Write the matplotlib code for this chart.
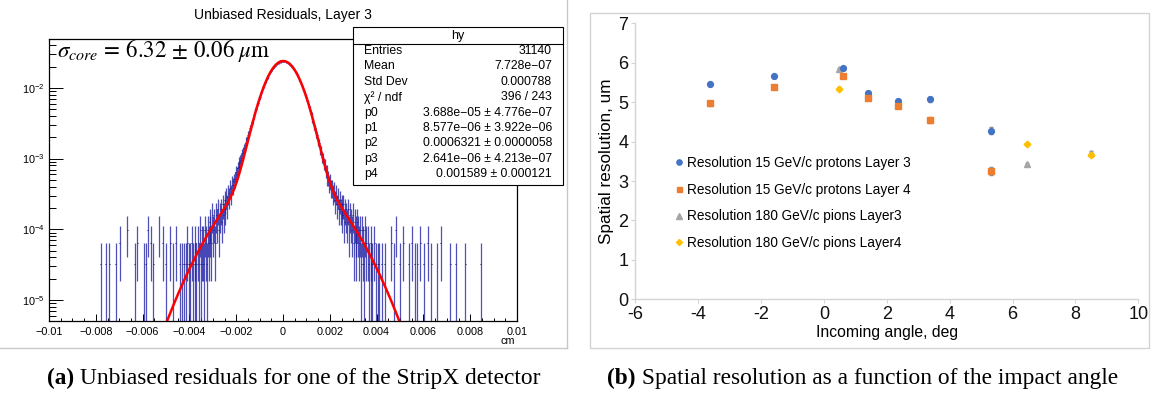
import matplotlib.pyplot as plt
import numpy as np
from matplotlib.patches import Rectangle
from matplotlib.lines import Line2D
from matplotlib.text import Annotation
from matplotlib.ticker import FixedLocator, FixedFormatter, LogLocator, NullFormatter, MultipleLocator

plt.rcParams['font.family'] = ['Liberation Sans', 'DejaVu Sans']
plt.rcParams['mathtext.fontset'] = 'stix'

# ---------------- panel (a): unbiased residuals (ROOT histogram) ----------------
n_entries = 31140
bin_width = 4e-5
x_lo, x_hi = -0.01, 0.01

# bin contents going outward from 0 (bins of 4e-5 cm)
counts_right = [752, 741, 738, 725, 719, 700, 690, 665, 651, 622,
                604, 572, 553, 518, 498, 463, 444, 409, 388, 355,
                335, 302, 285, 255, 240, 213, 198, 172, 160, 140,
                131, 110, 104, 88, 83, 70, 66, 55, 52, 42,
                41, 33, 32, 27, 26, 21, 21, 17, 17, 14,
                15, 12, 12, 10, 11, 8, 10, 7, 9, 6,
                8, 6, 7, 5, 7, 4, 6, 5, 4, 6,
                3, 5, 4, 3, 5, 2, 4, 3, 2, 4,
                3, 2, 3, 1, 3, 2, 1, 3, 2, 0,
                2, 1, 0, 2, 1, 1, 0, 2, 0, 1,
                0, 1, 1, 0, 0, 1, 0, 0, 1, 0, 0, 0]
counts_left = [748, 745, 731, 731, 712, 708, 680, 672, 642, 628,
               596, 580, 541, 527, 489, 470, 433, 416, 379, 362,
               326, 310, 278, 262, 232, 220, 191, 180, 158, 150,
               131, 124, 107, 101, 88, 84, 71, 68, 58, 55,
               47, 44, 39, 37, 32, 30, 28, 24, 23, 19,
               20, 16, 15, 13, 14, 10, 12, 9, 10, 7,
               9, 6, 8, 5, 7, 4, 6, 5, 3, 6,
               4, 5, 2, 4, 3, 5, 2, 3, 4, 2,
               3, 1, 2, 3, 1, 2, 2, 1, 3, 1,
               2, 0, 1, 2, 1, 0, 1, 2, 0, 1,
               1, 0, 2, 1, 0, 1, 0, 1, 0, 0, 1, 0]
# sparse outer tail bins
tail_x = [-0.00778, -0.00757, -0.00743, -0.00714, -0.00698, -0.00667, -0.00635,
          -0.00624, -0.00595, -0.00587, -0.00579, -0.00567, -0.00556, -0.00532,
          -0.00516, -0.00500, -0.00484, -0.00470, -0.00458,
          0.00462, 0.00475, 0.00484, 0.00500, 0.00516, 0.00536, 0.00548, 0.00563,
          0.00576, 0.00587, 0.00603, 0.00619, 0.00635, 0.00659, 0.00675, 0.00714,
          0.00738, 0.00778, 0.00845]
tail_n = [1, 1, 1, 1, 2, 3, 1, 2, 1, 1, 3, 2, 1, 3, 2, 1, 2, 1, 2,
          2, 1, 3, 1, 2, 1, 2, 1, 1, 2, 1, 2, 1, 1, 2, 1, 1, 1, 1]

fit_params = [3.688e-05, 8.577e-06, 0.0006321, 2.641e-06, 0.001589]

stats_labels = ['Entries', 'Mean', 'Std Dev', 'χ² / ndf', 'p0', 'p1', 'p2', 'p3', 'p4']
stats_values = ['31140', '7.728e−07', '0.000788', '396 / 243',
                '3.688e−05 ± 4.776e−07', '8.577e−06 ± 3.922e−06',
                '0.0006321 ± 0.0000058', '2.641e−06 ± 4.213e−07',
                '0.001589 ± 0.000121']
xticks_a = [-0.01, -0.008, -0.006, -0.004, -0.002, 0, 0.002, 0.004, 0.006, 0.008, 0.01]
xtick_labels_a = ['−0.01', '−0.008', '−0.006', '−0.004', '−0.002', '0',
                  '0.002', '0.004', '0.006', '0.008', '0.01']

# ---------------- panel (b): spatial resolution vs angle ----------------
angle_p = [-3.62, -1.59, 0.595, 1.39, 2.345, 3.37, 5.30]
res_p_l3 = [5.46, 5.66, 5.86, 5.24, 5.03, 5.07, 4.27]
err_p_l3 = [0.05, 0.04, 0.04, 0.05, 0.04, 0.06, 0.09]
res_p_l4 = [4.97, 5.38, 5.66, 5.11, 4.90, 4.55, 3.26]
err_p_l4 = [0.06, 0.04, 0.05, 0.06, 0.04, 0.07, 0.10]
angle_pi = [0.47, 6.45, 8.50]
res_pi_l3 = [5.83, 3.42, 3.71]
err_pi_l3 = [0.04, 0.04, 0.05]
res_pi_l4 = [5.34, 3.94, 3.67]
err_pi_l4 = [0.04, 0.03, 0.04]
series_labels = ['Resolution 15 GeV/c protons Layer 3',
                 'Resolution 15 GeV/c protons Layer 4',
                 'Resolution 180 GeV/c pions Layer3',
                 'Resolution 180 GeV/c pions Layer4']
xticks_b = [-6, -4, -2, 0, 2, 4, 6, 8, 10]
yticks_b = [0, 1, 2, 3, 4, 5, 6, 7]

W, H = 1153, 398
fig = plt.figure(figsize=(W / 100, H / 100), dpi=100)


def fx(x):
    return x / W


def fy(y):
    return 1 - y / H


# ---- left panel ----
ax = fig.add_axes([fx(49), fy(321), fx(468), 282 / H])
edges = np.arange(x_lo, x_hi + bin_width / 2, bin_width)
centers = edges[:-1] + bin_width / 2
counts = np.zeros(len(centers))
mid = len(centers) // 2
counts[mid:mid + len(counts_right)] = counts_right
counts[mid - len(counts_left):mid] = counts_left[::-1]
idx = np.floor((np.array(tail_x) - x_lo) / bin_width).astype(int)
counts[idx] += tail_n

ok = counts > 0
yv = counts[ok] / n_entries
ev = np.sqrt(counts[ok]) / n_entries
xc = centers[ok]
ax.vlines(xc, np.maximum(yv - ev, 1e-7), yv + ev, color='#2424a8', lw=0.9, alpha=0.8)
ax.hlines(yv, xc - bin_width / 2, xc + bin_width / 2, color='#14146e', lw=0.7)

p0, p1, p2, p3, p4 = fit_params
xf = np.linspace(x_lo, x_hi, 2000)
yf = (p0 / (np.sqrt(2 * np.pi) * p2) * np.exp(-(xf - p1) ** 2 / (2 * p2 ** 2))
      + p3 / (np.sqrt(2 * np.pi) * p4) * np.exp(-(xf - p1) ** 2 / (2 * p4 ** 2)))
ax.plot(xf, yf, color='#ff0000', lw=1.8)

ax.set_yscale('log')
ax.set_xlim(x_lo, x_hi)
ax.set_ylim(5.06e-6, 0.049)
ax.xaxis.set_major_locator(FixedLocator(xticks_a))
ax.xaxis.set_major_formatter(FixedFormatter(xtick_labels_a))
ax.xaxis.set_minor_locator(MultipleLocator(0.0005))
ax.yaxis.set_major_locator(LogLocator(base=10, numticks=10))
ax.yaxis.set_minor_locator(LogLocator(base=10, subs=np.arange(2, 10), numticks=20))
ax.yaxis.set_minor_formatter(NullFormatter())
ax.tick_params(which='both', direction='in', top=False, right=False, labelsize=7.8, width=0.7)
ax.xaxis.set_tick_params(which='major', length=5, pad=4)
ax.xaxis.set_tick_params(which='minor', length=2.5)
ax.yaxis.set_tick_params(which='major', length=10, pad=3)
ax.yaxis.set_tick_params(which='minor', length=5)
for s in ax.spines.values():
    s.set_linewidth(0.9)

fig.text(fx(57), fy(50), r'$\sigma_{core}\,=\,6.32\,\pm\,0.06\;\mu\mathrm{m}$',
         fontsize=16.5, va='center', ha='left')
fig.text(fx(283), fy(15), 'Unbiased Residuals, Layer 3', fontsize=10, ha='center', va='center')
fig.text(fx(508), fy(341), 'cm', fontsize=7.8, ha='center', va='center')

# stats box
bx0, by0, bx1, by1 = 353, 27, 563, 185
fig.add_artist(Rectangle((fx(bx0), fy(by1)), fx(bx1 - bx0), (by1 - by0) / H,
                         transform=fig.transFigure, facecolor='white', edgecolor='black', lw=0.8))
fig.add_artist(Line2D([fx(bx0), fx(bx1)], [fy(44), fy(44)], transform=fig.transFigure,
                      color='black', lw=0.8))
fig.text(fx((bx0 + bx1) / 2), fy(35.5), 'hy', fontsize=9, ha='center', va='center')
for i, (lab, val) in enumerate(zip(stats_labels, stats_values)):
    yy = 51 + i * 15.4
    fig.text(fx(364), fy(yy), lab, fontsize=8.8, ha='left', va='center')
    fig.text(fx(552), fy(yy), val, fontsize=8.8, ha='right', va='center')

# panel frame lines (a)
fig.add_artist(Line2D([fx(567), fx(567)], [fy(0), fy(348)], transform=fig.transFigure,
                      color='#c8c8c8', lw=1))
fig.add_artist(Line2D([fx(0), fx(567)], [fy(348), fy(348)], transform=fig.transFigure,
                      color='#c8c8c8', lw=1))

# ---- right panel ----
fig.add_artist(Rectangle((fx(590), fy(348)), fx(1149 - 590), (348 - 13) / H,
                         transform=fig.transFigure, facecolor='none', edgecolor='#d4d4d4', lw=1))
bx = fig.add_axes([fx(635.4), fy(299.3), fx(502.9), 276 / H])
err_col = '#8c8c8c'
bx.errorbar(angle_p, res_p_l3, yerr=err_p_l3, fmt='none', ecolor=err_col, elinewidth=0.8, capsize=1.2)
bx.errorbar(angle_p, res_p_l4, yerr=err_p_l4, fmt='none', ecolor=err_col, elinewidth=0.8, capsize=1.2)
bx.errorbar(angle_pi, res_pi_l3, yerr=err_pi_l3, fmt='none', ecolor=err_col, elinewidth=0.8, capsize=1.2)
bx.errorbar(angle_pi, res_pi_l4, yerr=err_pi_l4, fmt='none', ecolor=err_col, elinewidth=0.8, capsize=1.2)
bx.plot(angle_pi, res_pi_l3, ls='none', marker='^', ms=4.2, color='#a5a5a5', label=series_labels[2])
bx.plot(angle_p, res_p_l3, ls='none', marker='o', ms=4.2, color='#4472c4', label=series_labels[0])
bx.plot(angle_p, res_p_l4, ls='none', marker='s', ms=4.0, color='#ed7d31', label=series_labels[1])
bx.plot(angle_pi, res_pi_l4, ls='none', marker='D', ms=3.4, color='#ffc000', label=series_labels[3])

bx.set_xlim(-6, 10)
bx.set_ylim(0, 7)
bx.xaxis.set_major_locator(FixedLocator(xticks_b))
bx.xaxis.set_major_formatter(FixedFormatter([str(v) for v in xticks_b]))
bx.yaxis.set_major_locator(FixedLocator(yticks_b))
bx.yaxis.set_major_formatter(FixedFormatter([str(v) for v in yticks_b]))
for side in ['top', 'right']:
    bx.spines[side].set_visible(False)
for side in ['left', 'bottom']:
    bx.spines[side].set_color('#d4d4d4')
    bx.spines[side].set_linewidth(1)
bx.tick_params(direction='out', length=3, color='#d4d4d4', labelsize=13, labelcolor='#111111', pad=2)
bx.set_xlabel('Incoming angle, deg', fontsize=11.3, labelpad=1)
bx.set_ylabel('Spatial resolution, um', fontsize=12.3, labelpad=3)

h, l = bx.get_legend_handles_labels()
order = [1, 2, 0, 3]
bx.legend([h[i] for i in order], [l[i] for i in order], loc='upper left',
          bbox_to_anchor=(0.07, 0.538), frameon=False, fontsize=9.8,
          handlelength=0.5, handletextpad=0.3, labelspacing=0.92, borderaxespad=0,
          markerscale=0.9)

# ---- captions ----
cap_font = ['Liberation Serif', 'DejaVu Serif']
ta = fig.text(fx(47), fy(378), '(a)', fontsize=16.8, fontweight='bold', family=cap_font,
              ha='left', va='center')
fig.add_artist(Annotation(' Unbiased residuals for one of the StripX detector',
                          xy=(1, 0), xycoords=ta, va='bottom', ha='left',
                          fontsize=16.8, family=cap_font))
tb = fig.text(fx(607), fy(378), '(b)', fontsize=16.8, fontweight='bold', family=cap_font,
              ha='left', va='center')
fig.add_artist(Annotation(' Spatial resolution as a function of the impact angle',
                          xy=(1, 0), xycoords=tb, va='bottom', ha='left',
                          fontsize=16.8, family=cap_font))

fig.savefig('out.png', dpi=100)
